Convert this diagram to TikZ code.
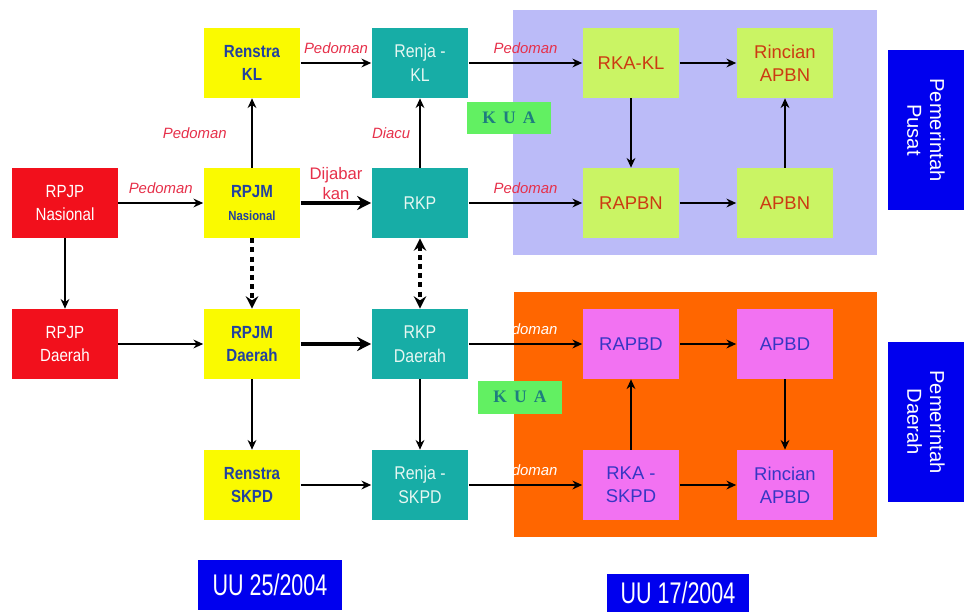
\documentclass[tikz,border=0pt]{standalone}
\usepackage{fontspec}
\setmainfont{Liberation Sans}
\newfontfamily\narrowfont[FakeStretch=0.86]{Liberation Sans}
\newfontfamily\uufont[FakeStretch=0.72]{Liberation Sans}
\newfontfamily\kuafont[LetterSpace=40]{Liberation Serif}
\usetikzlibrary{arrows.meta,positioning}
\definecolor{PlanRed}   {HTML}{F2101C}
\definecolor{PlanYellow}{HTML}{FAFA00}
\definecolor{PlanBlue}  {HTML}{2241A0}
\definecolor{PlanTeal}  {HTML}{17ADA6}
\definecolor{PlanMint}  {HTML}{E6F7F2}
\definecolor{PusatLime} {HTML}{CAF464}
\definecolor{PusatText} {HTML}{CC3A12}
\definecolor{PusatBack} {HTML}{BBBBF8}
\definecolor{DaerahBack}{HTML}{FF6600}
\definecolor{DaerahPink}{HTML}{F272F2}
\definecolor{DaerahText}{HTML}{3636C4}
\definecolor{KuaGreen}  {HTML}{62F062}
\definecolor{KuaText}   {HTML}{1E7E7E}
\definecolor{GovBlue}   {HTML}{0000EE}
\definecolor{LabelRed}  {HTML}{E6304A}
\begin{document}
\begin{tikzpicture}[x=0.02cm,y=-0.02cm,
  box/.style={minimum width=1.94cm,minimum height=1.4cm,inner sep=2pt,align=center},
  rpjpbox/.style={box,fill=PlanRed,text=white,minimum width=2.12cm,
    font=\narrowfont\fontsize{10}{13}\selectfont},
  rpjmbox/.style={box,fill=PlanYellow,text=PlanBlue,
    font=\narrowfont\bfseries\fontsize{10}{13}\selectfont},
  rkpbox/.style={box,fill=PlanTeal,text=PlanMint,
    font=\narrowfont\fontsize{10.5}{13.5}\selectfont},
  pusatbox/.style={box,fill=PusatLime,text=PusatText,
    font=\fontsize{10.5}{13}\selectfont},
  daerahbox/.style={box,fill=DaerahPink,text=DaerahText,
    font=\fontsize{10.5}{13}\selectfont},
  kuabox/.style={fill=KuaGreen,text=KuaText,minimum width=1.7cm,
    minimum height=0.66cm,inner sep=0pt,font=\kuafont\bfseries\fontsize{10}{12}\selectfont},
  govbox/.style={fill=GovBlue,text=white,align=center,rotate=-90,
    minimum width=3.2cm,minimum height=1.52cm,inner sep=0pt,
    font=\fontsize{11.5}{13}\selectfont},
  uubox/.style={fill=GovBlue,text=white,inner sep=0pt,
    font=\uufont\fontsize{17}{19}\selectfont},
  lbl/.style={text=LabelRed,font=\itshape\fontsize{8.5}{10}\selectfont,inner sep=1pt},
  flow/.style={-{Stealth[length=5.5pt,width=5pt]},line width=1.1pt},
  heavy/.style={-{Stealth[length=8pt,width=8pt]},line width=2.2pt},
  dots/.style={line width=2.8pt,dash pattern=on 2.8pt off 2.4pt}]
  \useasboundingbox (0,0) rectangle (964,612);
  % Regions
  \fill[PusatBack] (513,10) rectangle (877,255);
  \fill[DaerahBack] (514,292) rectangle (877,537);
  % Column 1
  \node[rpjpbox] (RPJPN) at (65,203) {RPJP\\Nasional};
  \node[rpjpbox] (RPJPD) at (65,344) {RPJP\\Daerah};
  % Column 2
  \node[rpjmbox] (RSKL) at (252,63) {Renstra\\KL};
  \node[rpjmbox] (RPJMN) at (252,203)
    {RPJM\\{\fontsize{7.5}{10}\selectfont Nasional}};
  \node[rpjmbox] (RPJMD) at (252,344) {RPJM\\Daerah};
  \node[rpjmbox] (RSSK) at (252,485) {Renstra\\SKPD};
  % Column 3
  \node[rkpbox] (RJKL) at (420,63) {Renja -\\KL};
  \node[rkpbox] (RKP) at (420,203) {RKP};
  \node[rkpbox] (RKPD) at (420,344) {RKP\\Daerah};
  \node[rkpbox] (RJSK) at (420,485) {Renja -\\SKPD};
  % Pusat
  \node[pusatbox] (RKAKL) at (631,63) {RKA-KL};
  \node[pusatbox] (RAPBN) at (631,203) {RAPBN};
  \node[pusatbox] (RAPBNR) at (785,63) {Rincian\\APBN};
  \node[pusatbox] (APBN) at (785,203) {APBN};
  % Daerah
  \node[daerahbox] (RAPBD) at (631,344) {RAPBD};
  \node[daerahbox] (RKASK) at (631,485) {RKA -\\SKPD};
  \node[daerahbox] (APBD) at (785,344) {APBD};
  \node[daerahbox] (APBDR) at (785,485) {Rincian\\APBD};
  % KUA
  \node[kuabox] (KUA1) at (509,118) {KUA};
  \node[kuabox] (KUA2) at (520,397) {KUA};
  % Side and bottom tags
  \node[govbox] (GOVP) at (926,130) {Pemerintah\\Pusat};
  \node[govbox] (GOVD) at (926,422) {Pemerintah\\Daerah};
  \node[uubox,minimum width=2.9cm,minimum height=1cm] (UU25) at (270,585) {UU 25/2004};
  \node[uubox,minimum width=2.86cm,minimum height=0.78cm] (UU17) at (678,593) {UU 17/2004};
  % Planning chain
  \draw[flow] (RPJPN) -- (RPJMN) node[lbl,midway,above=4pt] {Pedoman};
  \draw[flow] (RPJPN) -- (RPJPD);
  \draw[flow] (RPJPD) -- (RPJMD);
  \draw[flow] (RPJMN) -- (RSKL) node[lbl,midway,left=0.45cm] {Pedoman};
  \draw[heavy] (RPJMN) -- (RKP)
    node[midway,above=0pt,align=center,text=LabelRed,inner sep=1pt,
      font=\fontsize{9.5}{11}\selectfont] {Dijabar\\kan};
  \draw[dots,-{Stealth[length=7pt,width=7pt]}] (RPJMN) -- (RPJMD);
  \draw[flow] (RSKL) -- (RJKL) node[lbl,midway,above=4pt] {Pedoman};
  \draw[flow] (RKP) -- (RJKL) node[lbl,midway,left=4pt] {Diacu};
  \draw[dots,{Stealth[length=7pt,width=7pt]}-{Stealth[length=7pt,width=7pt]}] (RKP) -- (RKPD);
  \draw[heavy] (RPJMD) -- (RKPD);
  \draw[flow] (RPJMD) -- (RSSK);
  \draw[flow] (RKPD) -- (RJSK);
  \draw[flow] (RSSK) -- (RJSK);
  % Budget chain
  \draw[flow] (RJKL) -- (RKAKL) node[lbl,midway,above=4pt] {Pedoman};
  \draw[flow] (RKP) -- (RAPBN) node[lbl,midway,above=4pt] {Pedoman};
  \draw[flow] (RKAKL) -- (RAPBNR);
  \draw[flow] (RKAKL) -- (RAPBN);
  \draw[flow] (RAPBN) -- (APBN);
  \draw[flow] (APBN) -- (RAPBNR);
  \draw[flow] (RKPD) -- (RAPBD) node[lbl,text=white,midway,above=4pt] {Pedoman};
  \draw[flow] (RJSK) -- (RKASK) node[lbl,text=white,midway,above=4pt] {Pedoman};
  \draw[flow] (RAPBD) -- (APBD);
  \draw[flow] (APBD) -- (APBDR);
  \draw[flow] (RKASK) -- (RAPBD);
  \draw[flow] (RKASK) -- (APBDR);
\end{tikzpicture}
\end{document}
